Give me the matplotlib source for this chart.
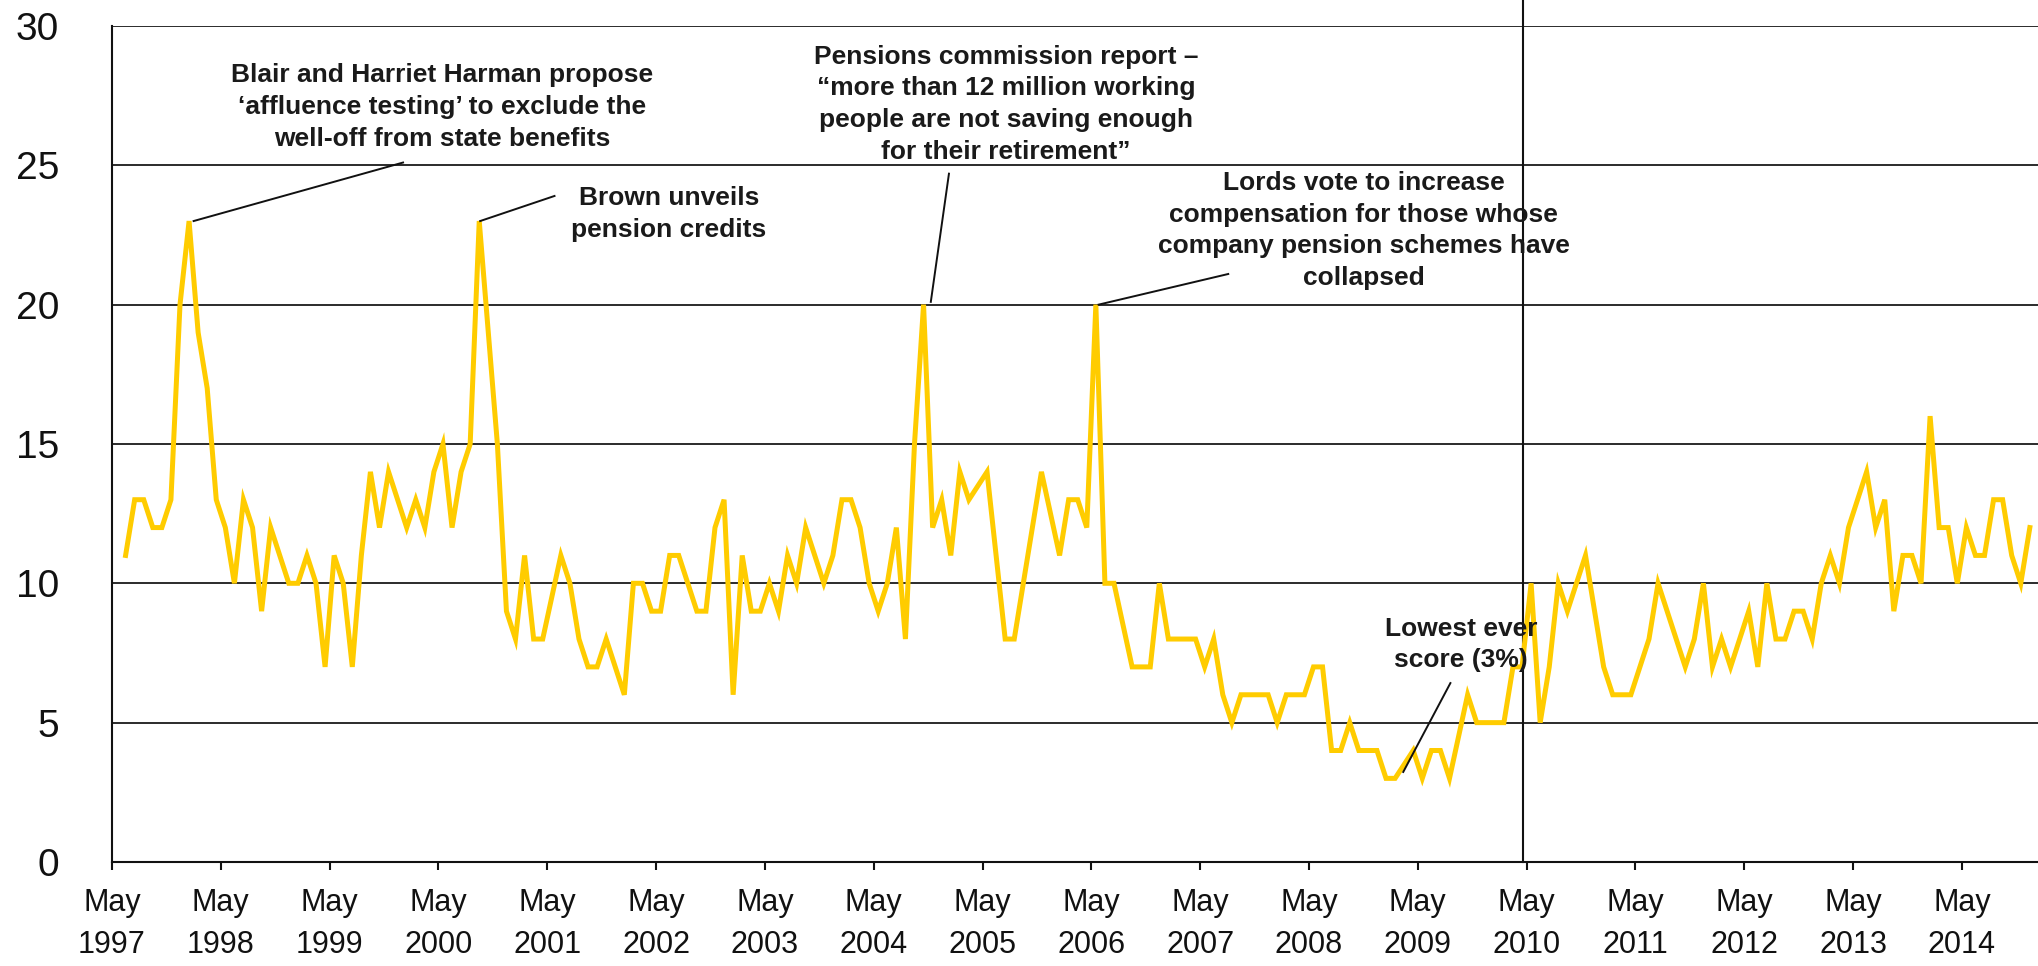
import matplotlib
matplotlib.use("Agg")
import matplotlib.pyplot as plt

# ---------------- data ----------------
survey_months = [
    "1997-06", "1997-07", "1997-08", "1997-09", "1997-10", "1997-11", "1997-12",
    "1998-01", "1998-02", "1998-03", "1998-04", "1998-05", "1998-06", "1998-07", "1998-08", "1998-09", "1998-10", "1998-11", "1998-12",
    "1999-01", "1999-02", "1999-03", "1999-04", "1999-05", "1999-06", "1999-07", "1999-08", "1999-09", "1999-10", "1999-11", "1999-12",
    "2000-01", "2000-02", "2000-03", "2000-04", "2000-05", "2000-06", "2000-07", "2000-08", "2000-09", "2000-10", "2000-11", "2000-12",
    "2001-01", "2001-02", "2001-03", "2001-04", "2001-06", "2001-07", "2001-08", "2001-09", "2001-10", "2001-11", "2001-12",
    "2002-01", "2002-02", "2002-03", "2002-04", "2002-05", "2002-06", "2002-07", "2002-08", "2002-09", "2002-10", "2002-11", "2002-12",
    "2003-01", "2003-02", "2003-03", "2003-04", "2003-05", "2003-06", "2003-07", "2003-08", "2003-09", "2003-10", "2003-11", "2003-12",
    "2004-01", "2004-02", "2004-03", "2004-04", "2004-05", "2004-06", "2004-07", "2004-08", "2004-09", "2004-10", "2004-11", "2004-12",
    "2005-01", "2005-02", "2005-03", "2005-05", "2005-06", "2005-07", "2005-08", "2005-09", "2005-10", "2005-11",
    "2006-01", "2006-02", "2006-03", "2006-04", "2006-05", "2006-06", "2006-07", "2006-09", "2006-10", "2006-11", "2006-12",
    "2007-01", "2007-02", "2007-03", "2007-04", "2007-05", "2007-06", "2007-07", "2007-08", "2007-09", "2007-10", "2007-11", "2007-12",
    "2008-01", "2008-02", "2008-03", "2008-04", "2008-05", "2008-06", "2008-07", "2008-08", "2008-09", "2008-10", "2008-11", "2008-12",
    "2009-01", "2009-02", "2009-04", "2009-05", "2009-06", "2009-07", "2009-08", "2009-10", "2009-11", "2009-12",
    "2010-01", "2010-02", "2010-03", "2010-04", "2010-05", "2010-06", "2010-07", "2010-08", "2010-09", "2010-10", "2010-11", "2010-12",
    "2011-01", "2011-02", "2011-03", "2011-04", "2011-05", "2011-06", "2011-07", "2011-08", "2011-09", "2011-10", "2011-11", "2011-12",
    "2012-01", "2012-02", "2012-03", "2012-04", "2012-05", "2012-06", "2012-07", "2012-08", "2012-09", "2012-10", "2012-11", "2012-12",
    "2013-01", "2013-02", "2013-03", "2013-04", "2013-05", "2013-06", "2013-07", "2013-08", "2013-09", "2013-10", "2013-11", "2013-12",
    "2014-01", "2014-02", "2014-03", "2014-04", "2014-05", "2014-06", "2014-07", "2014-08", "2014-09", "2014-10", "2014-11", "2014-12",
]

scores = [
    11, 13, 13, 12, 12, 13, 20,
    23, 19, 17, 13, 12, 10, 13, 12, 9, 12, 11, 10,
    10, 11, 10, 7, 11, 10, 7, 11, 14, 12, 14, 13,
    12, 13, 12, 14, 15, 12, 14, 15, 23, 19, 15, 9,
    8, 11, 8, 8, 11, 10, 8, 7, 7, 8, 7,
    6, 10, 10, 9, 9, 11, 11, 10, 9, 9, 12, 13,
    6, 11, 9, 9, 10, 9, 11, 10, 12, 11, 10, 11,
    13, 13, 12, 10, 9, 10, 12, 8, 15, 20, 12, 13,
    11, 14, 13, 14, 11, 8, 8, 10, 12, 14,
    11, 13, 13, 12, 20, 10, 10, 7, 7, 7, 10,
    8, 8, 8, 8, 7, 8, 6, 5, 6, 6, 6, 6,
    5, 6, 6, 6, 7, 7, 4, 4, 5, 4, 4, 4,
    3, 3, 4, 3, 4, 4, 3, 6, 5, 5,
    5, 5, 7, 7, 10, 5, 7, 10, 9, 10, 11, 9,
    7, 6, 6, 6, 7, 8, 10, 9, 8, 7, 8, 10,
    7, 8, 7, 8, 9, 7, 10, 8, 8, 9, 9, 8,
    10, 11, 10, 12, 13, 14, 12, 13, 9, 11, 11, 10,
    16, 12, 12, 10, 12, 11, 11, 13, 13, 11, 10, 12,
]

tick_years = ["1997", "1998", "1999", "2000", "2001", "2002", "2003", "2004", "2005",
              "2006", "2007", "2008", "2009", "2010", "2011", "2012", "2013", "2014"]
y_ticks = [0, 5, 10, 15, 20, 25, 30]

annotations = [
    "Blair and Harriet Harman propose\n\u2018affluence testing\u2019 to exclude the\nwell-off from state benefits",
    "Brown unveils\npension credits",
    "Pensions commission report \u2013\n\u201cmore than 12 million working\npeople are not saving enough\nfor their retirement\u201d",
    "Lords vote to increase\ncompensation for those whose\ncompany pension schemes have\ncollapsed",
    "Lowest ever\nscore (3%)",
]


def months_since_may97(s):
    y, m = s.split("-")
    return (int(y) - 1997) * 12 + (int(m) - 5)


x_pos = [months_since_may97(s) + 0.5 for s in survey_months]
tick_pos = [months_since_may97(y + "-05") for y in tick_years]

# ---------------- figure ----------------
plt.rcParams['font.family'] = ['Liberation Sans', 'DejaVu Sans']
fig = plt.figure(figsize=(20.38, 9.66), dpi=100)
ax = fig.add_axes([0.05495, 0.1077, 0.94505, 0.8654])

ax.set_xlim(0, 212.4)
ax.set_ylim(0, 30)

ax.set_yticks(y_ticks)
ax.yaxis.grid(True, color='#1a1a1a', lw=1.3)
ax.set_axisbelow(True)
ax.tick_params(axis='y', length=0, labelsize=28, pad=38, labelcolor='#111111')

ax.set_xticks(tick_pos)
ax.set_xticklabels(["May\n" + y for y in tick_years])
ax.tick_params(axis='x', direction='out', length=6, width=1.5, color='#111111',
               labelsize=22, pad=13, labelcolor='#111111')
for lbl in ax.get_xticklabels():
    lbl.set_linespacing(1.5)

for side in ('top', 'right'):
    ax.spines[side].set_visible(False)
for side in ('left', 'bottom'):
    ax.spines[side].set_color('#111111')
    ax.spines[side].set_linewidth(1.5)

ax.plot(x_pos, scores, color='#FFCC00', lw=3.6, solid_joinstyle='miter', zorder=3)

# election marker line
ax.axvline(155.6, ymin=0, ymax=1.032, color='#111111', lw=1.5, clip_on=False, zorder=2)

# annotation leader lines
leaders = [
    ((9.0, 32.1), (23.0, 25.1)),
    ((40.6, 48.8), (23.0, 23.9)),
    ((90.3, 92.3), (20.1, 24.7)),
    ((108.8, 123.1), (20.0, 21.1)),
    ((142.4, 147.6), (3.23, 6.42)),
]
for xs, ys in leaders:
    ax.plot(xs, ys, color='#111111', lw=1.4, clip_on=False, zorder=4)

text_pos = [
    (0.1713, 0.9030),
    (0.2892, 0.7750),
    (0.4642, 0.9065),
    (0.6500, 0.7555),
    (0.7005, 0.2600),
]
for txt, (tx, ty) in zip(annotations, text_pos):
    ax.text(tx, ty, txt, transform=ax.transAxes, ha='center', va='center',
            fontsize=19, fontweight='bold', color='#1a1a1a', linespacing=1.4,
            zorder=5)

fig.savefig("out.png", dpi=100)
